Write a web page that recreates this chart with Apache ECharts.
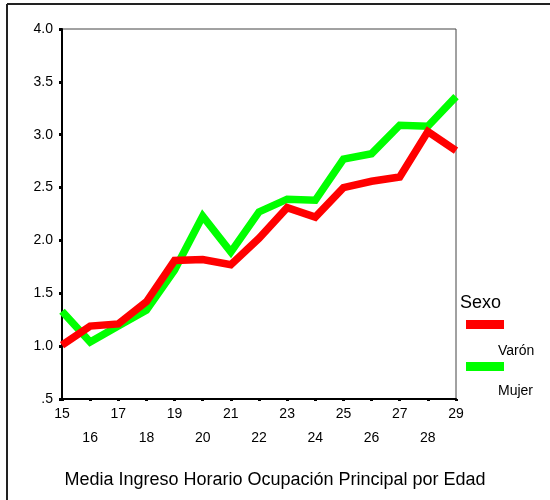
<!DOCTYPE html>
<html>
<head>
<meta charset="utf-8">
<script src="https://cdn.jsdelivr.net/npm/echarts@6/dist/echarts.min.js"></script>
<style>
  html, body { margin: 0; padding: 0; background: #fff; }
  #chart { width: 550px; height: 500px; }
</style>
</head>
<body>
<div id="chart"></div>
<script>
// edades (eje x)
var edades = ['15', '16', '17', '18', '19', '20', '21', '22', '23', '24', '25', '26', '27', '28', '29'];
// media ingreso horario
var varon = [1.01, 1.19, 1.21, 1.42, 1.81, 1.82, 1.77, 2.02, 2.31, 2.22, 2.50, 2.56, 2.60, 3.03, 2.85];
var mujer = [1.33, 1.04, 1.19, 1.34, 1.72, 2.23, 1.89, 2.27, 2.39, 2.38, 2.77, 2.82, 3.09, 3.08, 3.36];
var yMin = 0.5, yMax = 4.0, yStep = 0.5;

var ROJO = '#ff0000', VERDE = '#00ff00';
var fuente = '"Liberation Sans", Arial, sans-serif';

var myChart = echarts.init(document.getElementById('chart'));

var option = {
	backgroundColor: '#fff',
	animation: false,
	textStyle: { fontFamily: fuente },
	grid: {
		left: 62, top: 29, right: 94, bottom: 101,
		show: true, borderColor: '#444', borderWidth: 1
	},
	xAxis: {
		type: 'category',
		boundaryGap: false,
		data: edades,
		axisLine: { lineStyle: { color: '#000', width: 2 } },
		axisTick: { show: true, length: 2, lineStyle: { color: '#000', width: 3 } },
		axisLabel: {
			margin: 3,
			color: '#000',
			fontSize: 14,
			lineHeight: 24,
			verticalAlign: 'top',
			interval: 0,
			formatter: function (v, i) { return i % 2 ? '\n' + v : v; }
		},
		splitLine: { show: false }
	},
	yAxis: {
		type: 'value',
		min: yMin, max: yMax, interval: yStep,
		axisLine: { show: true, lineStyle: { color: '#000', width: 2 } },
		axisTick: { show: true, length: 3, lineStyle: { color: '#000', width: 3 } },
		axisLabel: {
			margin: 9,
			color: '#000',
			fontSize: 14,
			formatter: function (v) { return v === 0.5 ? '.5' : v.toFixed(1); }
		},
		splitLine: { show: false }
	},
	series: [
		{
			name: 'Mujer', type: 'line', data: mujer,
			showSymbol: false, symbol: 'none',
			lineStyle: { color: VERDE, width: 7.5, cap: 'butt', join: 'miter' }
		},
		{
			name: 'Varón', type: 'line', data: varon,
			showSymbol: false, symbol: 'none',
			lineStyle: { color: ROJO, width: 7.5, cap: 'butt', join: 'miter' }
		}
	],
	graphic: [
		// marco exterior
		{ type: 'line', shape: { x1: 7, y1: 4, x2: 550, y2: 4 }, style: { stroke: '#222', lineWidth: 2 } },
		{ type: 'line', shape: { x1: 7, y1: 4, x2: 7, y2: 500 }, style: { stroke: '#222', lineWidth: 2 } },
		// leyenda
		{ type: 'text', left: 460, top: 294, style: { text: 'Sexo', font: '18px ' + fuente, fill: '#000' } },
		{ type: 'rect', shape: { x: 466, y: 320, width: 38, height: 9 }, style: { fill: ROJO } },
		{ type: 'text', left: 498, top: 344, style: { text: 'Varón', font: '14px ' + fuente, fill: '#000' } },
		{ type: 'rect', shape: { x: 466, y: 362, width: 38, height: 9 }, style: { fill: VERDE } },
		{ type: 'text', left: 498, top: 384, style: { text: 'Mujer', font: '14px ' + fuente, fill: '#000' } },
		// título del eje
		{ type: 'text', left: 'center', top: 471, style: { text: 'Media Ingreso Horario Ocupación Principal por Edad', font: '18px ' + fuente, fill: '#000' } }
	]
};

myChart.setOption(option);
</script>
</body>
</html>
